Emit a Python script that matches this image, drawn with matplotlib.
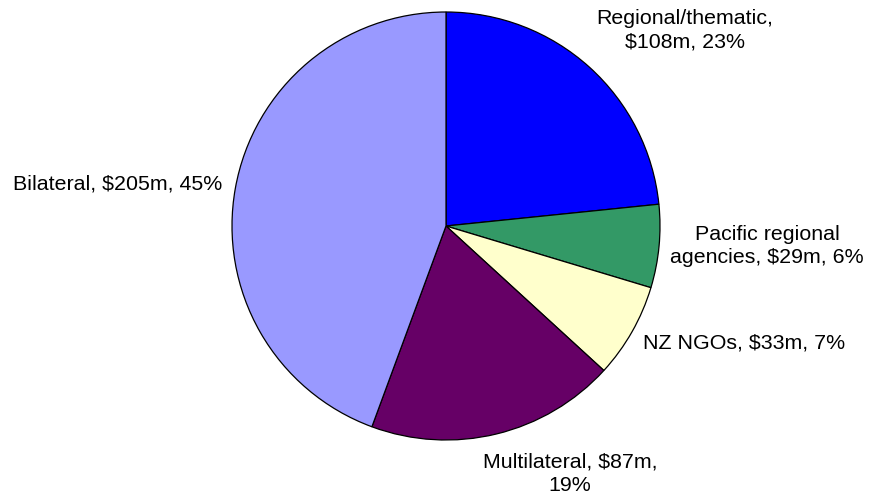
import matplotlib
matplotlib.use("Agg")
import matplotlib.pyplot as plt

plt.rcParams['font.family'] = ['Liberation Sans', 'DejaVu Sans']

# slices, clockwise from 12 o'clock
names = ["Regional/thematic", "Pacific regional agencies", "NZ NGOs", "Multilateral", "Bilateral"]
values = [108, 29, 33, 87, 205]
pcts = [23, 6, 7, 19, 45]
colors = ["#0000FF", "#339966", "#FFFFCC", "#660066", "#9999FF"]

label_text = [
    "Regional/thematic,\n$108m, 23%",
    "Pacific regional\nagencies, $29m, 6%",
    "NZ NGOs, $33m, 7%",
    "Multilateral, $87m,\n19%",
    "Bilateral, $205m, 45%",
]
# label placement (data units, pie radius = 1)
label_pos = [(1.117, 0.915), (1.50, -0.095), (0.921, -0.545), (0.579, -1.158), (-1.047, 0.196)]
label_ha = ["center", "center", "left", "center", "right"]

fig = plt.figure(figsize=(8.7, 4.99), dpi=100)
ax = fig.add_axes([232 / 870, 59 / 499, 428 / 870, 428 / 499])

ax.pie(values, colors=colors, startangle=90, counterclock=False, radius=1,
       wedgeprops=dict(edgecolor="black", linewidth=0.9))

for txt, (x, y), ha in zip(label_text, label_pos, label_ha):
    ax.text(x, y, txt, ha=ha, va="center", fontsize=15.4, linespacing=1.25,
            multialignment="center")

ax.set_xlim(-1, 1)
ax.set_ylim(-1, 1)
ax.set_aspect("equal")
ax.axis("off")

fig.savefig("out.png", dpi=100)
